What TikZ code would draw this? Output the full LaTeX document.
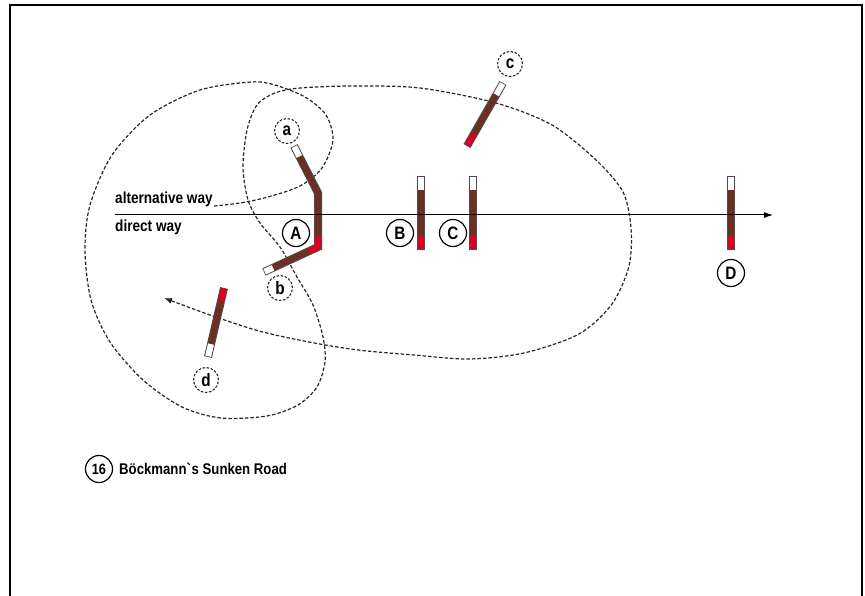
\documentclass[tikz,border=0pt]{standalone}
\usepackage{fontspec}
\setmainfont[FakeStretch=0.85]{Liberation Sans}
\usetikzlibrary{arrows.meta,calc}
\definecolor{polebrown}{RGB}{107,48,34}
\definecolor{polered}{RGB}{222,0,30}
\tikzset{
  route/.style={dash pattern=on 3.5pt off 2pt, line width=1.2pt, black!85},
  spot/.style={circle, draw, dash pattern=on 2.5pt off 1.6pt, line width=1.1pt, black!85, text=black,
    minimum size=25pt, inner sep=0pt, font=\fontsize{18}{18}\selectfont\bfseries},
  post/.style={circle, draw, line width=1.2pt, minimum size=27pt, inner sep=0pt,
    font=\fontsize{18}{18}\selectfont\bfseries},
  waytext/.style={inner sep=0pt, font=\fontsize{16}{16}\selectfont\bfseries},
  poleedge/.style={line width=8pt, black!70},
  polepart/.style={line width=6pt},
}
\newcommand{\drawpole}[2]{%
  \draw[poleedge] (#1) -- (#2);
  \draw[polepart, white] ($(#1)!0.8pt!(#2)$) -- ($(#1)!0.19!(#2)$);
  \draw[polepart, polebrown] ($(#1)!0.19!(#2)$) -- ($(#1)!0.81!(#2)$);
  \draw[polepart, polered] ($(#1)!0.81!(#2)$) -- ($(#2)!0.8pt!(#1)$);
}
\begin{document}
\begin{tikzpicture}[x=1pt,y=-1pt]
    \useasboundingbox (0,0) rectangle (865,596);
    \draw[line width=2pt] (9.5,596) -- (9.5,5) -- (862,5) -- (862,596);

    \coordinate (wayend) at (214,206);
    \coordinate (dw) at (115,215);
    \coordinate (de) at (773,215);

    \coordinate (Bw) at (421,176);
    \coordinate (Br) at (421,250);
    \coordinate (Cw) at (473,176);
    \coordinate (Cr) at (473,250);
    \coordinate (Dw) at (731,176);
    \coordinate (Dr) at (731,250);
    \coordinate (cw) at (503,83);
    \coordinate (cr) at (467,146);
    \coordinate (dr) at (224,288);
    \coordinate (dwp) at (208,357);

    \coordinate (Aw) at (294,146);
    \coordinate (Ak) at (318,193);
    \coordinate (Ac) at (318,247);
    \coordinate (Ab) at (264,272);

    \node[waytext, anchor=base west] (altway) at (115,204) {alternative way};
    \node[waytext, anchor=base west] (direct) at (115,232) {direct way};

    \draw[route, -{Latex[length=8pt,width=6pt]}] plot[smooth] coordinates {
      (wayend) (240,203) (268,197) (300,186) (322,168) (333,140) (326,115)
      (305,97) (275,85) (251,82) (200,90) (150,115) (112,155) (90,205)
      (85,250) (91,300) (110,342) (143,380) (182,407) (221,418) (267,416)
      (298,405) (317,387) (325,362) (323,337) (313,305) (297,277) (280,247)
      (260,223) (248,200) (243,167) (247,130) (257,105) (275,93) (300,88)
      (353,86) (420,88) (496,103) (552,125) (596,160) (623,192) (631,228)
      (629,266) (612,304) (579,334) (524,353) (469,359) (414,355) (358,350)
      (309,342) (259,331) (210,315) (164,298)};

    \drawpole{Bw}{Br}
    \drawpole{Cw}{Cr}
    \drawpole{Dw}{Dr}
    \drawpole{cw}{cr}
    \drawpole{dwp}{dr}

    \draw[poleedge, line join=miter] (Aw) -- (Ak) -- (Ac) -- (Ab);
    \draw[polepart, white] ($(Aw)!0.8pt!(Ak)$) -- ($(Aw)!12pt!(Ak)$);
    \draw[polepart, polebrown, line join=miter] ($(Aw)!12pt!(Ak)$) -- (Ak) -- (318,236);
    \draw[polepart, polered, line join=miter] (318,236) -- (Ac) -- ($(Ac)!10pt!(Ab)$);
    \draw[polepart, polebrown] ($(Ac)!10pt!(Ab)$) -- ($(Ab)!10pt!(Ac)$);
    \draw[polepart, white] ($(Ab)!10pt!(Ac)$) -- ($(Ab)!0.8pt!(Ac)$);

    \draw[line width=1pt, -{Latex[length=9pt,width=6pt]}] (dw) -- (de);

    \node[spot] (sa) at (287,131) {a};
    \node[spot] (sb) at (280,288) {b};
    \node[spot] (sc) at (510,64) {c};
    \node[spot] (sd) at (206,380) {d};

    \node[post] (pA) at (296,233) {A};
    \node[post] (pB) at (400,233) {B};
    \node[post] (pC) at (453,233) {C};
    \node[post] (pD) at (731,273) {D};

    \node[post, minimum size=27pt, font=\fontsize{15}{15}\selectfont\bfseries] (n16) at (99,469) {16};
    \node[waytext, anchor=base west, font=\fontsize{15.5}{16}\selectfont\bfseries] (title) at (119,474) {Böckmann\textasciigrave s Sunken Road};
\end{tikzpicture}
\end{document}
